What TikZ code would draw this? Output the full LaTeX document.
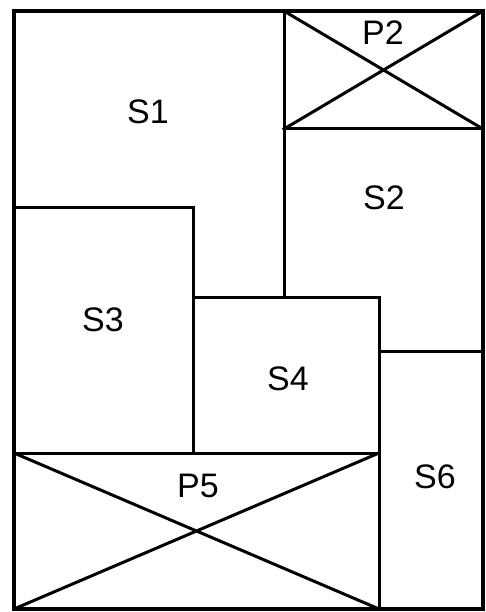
\documentclass[tikz,border=0pt]{standalone}
\usepackage{fontspec}
\setmainfont{Liberation Sans}
\tikzset{
  wall/.style={line width=3pt, line cap=rect},
  frame/.style={line width=4pt},
  room/.style={font=\fontsize{34}{34}\selectfont, inner sep=0pt},
}

\begin{document}
\begin{tikzpicture}[x=1pt,y=-1pt]
  \useasboundingbox (0,0) rectangle (486,612);
  % outer frame of the sheet
  \draw[frame] (14,11) rectangle (483,609);
  % P2: crossed box top right
  \draw[wall] (284,11) rectangle (483,129);
  \draw[wall] (284,11) -- (483,129) (284,129) -- (483,11);
  % partitions
  \draw[wall] (284,129) -- (284,297);
  \draw[wall] (14,208) -- (193,208) -- (193,453);
  \draw[wall] (193,297) -- (379,297) -- (379,609);
  \draw[wall] (379,351) -- (483,351);
  % P5: crossed box bottom left
  \draw[wall] (14,453) -- (379,453);
  \draw[wall] (14,453) -- (379,609) (14,609) -- (379,453);
  % labels
  \node[room] (s1) at (148,112) {S1};
  \node[room] (p2) at (383,33) {P2};
  \node[room] (s2) at (384,198) {S2};
  \node[room] (s3) at (103,320) {S3};
  \node[room] (s4) at (288,379) {S4};
  \node[room] (p5) at (198,486) {P5};
  \node[room] (s6) at (435,477) {S6};
\end{tikzpicture}
\end{document}
